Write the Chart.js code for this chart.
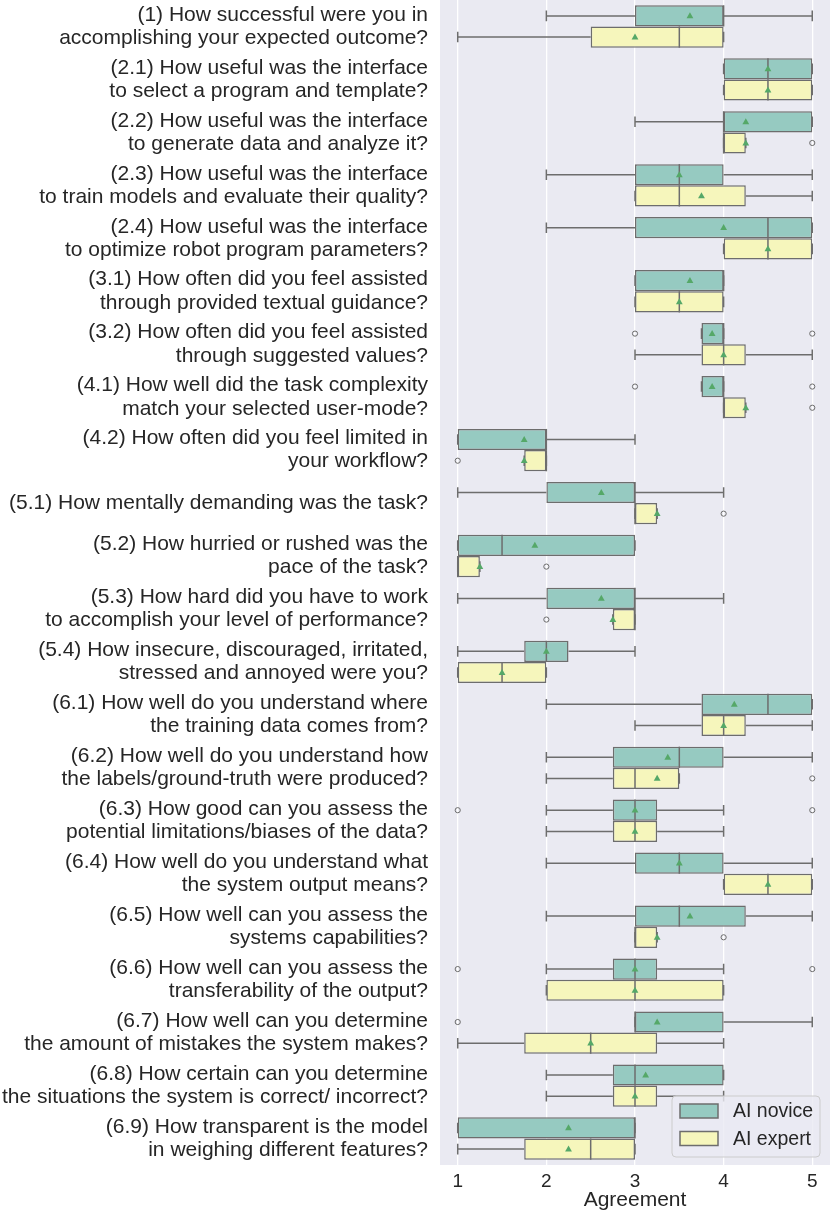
<!DOCTYPE html>
<html>
<head>
<meta charset="utf-8">
<script src="https://cdn.jsdelivr.net/npm/chart.js@4.4.1/dist/chart.umd.min.js"></script>
<style>
  html, body { margin: 0; padding: 0; background: #fff; }
  #wrap { width: 831px; height: 1213px; }
</style>
</head>
<body>
<div id="wrap"><canvas id="boxChart"></canvas></div>
<script>
// questions on the y axis (two lines each)
const questions = [
  ["(1) How successful were you in", "accomplishing your expected outcome?"],
  ["(2.1) How useful was the interface", "to select a program and template?"],
  ["(2.2) How useful was the interface", "to generate data and analyze it?"],
  ["(2.3) How useful was the interface", "to train models and evaluate their quality?"],
  ["(2.4) How useful was the interface", "to optimize robot program parameters?"],
  ["(3.1) How often did you feel assisted", "through provided textual guidance?"],
  ["(3.2) How often did you feel assisted", "through suggested values?"],
  ["(4.1) How well did the task complexity", "match your selected user-mode?"],
  ["(4.2) How often did you feel limited in", "your workflow?"],
  ["(5.1) How mentally demanding was the task?"],
  ["(5.2) How hurried or rushed was the", "pace of the task?"],
  ["(5.3) How hard did you have to work", "to accomplish your level of performance?"],
  ["(5.4) How insecure, discouraged, irritated,", "stressed and annoyed were you?"],
  ["(6.1) How well do you understand where", "the training data comes from?"],
  ["(6.2) How well do you understand how", "the labels/ground-truth were produced?"],
  ["(6.3) How good can you assess the", "potential limitations/biases of the data?"],
  ["(6.4) How well do you understand what", "the system output means?"],
  ["(6.5) How well can you assess the", "systems capabilities?"],
  ["(6.6) How well can you assess the", "transferability of the output?"],
  ["(6.7) How well can you determine", "the amount of mistakes the system makes?"],
  ["(6.8) How certain can you determine", "the situations the system is correct/ incorrect?"],
  ["(6.9) How transparent is the model", "in weighing different features?"]
];
const xTicks = [1, 2, 3, 4, 5];
const groupLabels = ["AI novice", "AI expert"];

// AI novice
const noviceLow    = [2, 4, 3, 2, 2, 3, 3.75, 3.75, 1, 1, 1, 1, 1, 2, 2, 2, 2, 2, 2, 3, 2, 1];
const noviceQ1     = [3, 4, 4, 3, 3, 3, 3.75, 3.75, 1, 2, 1, 2, 1.75, 3.75, 2.75, 2.75, 3, 3, 2.75, 3, 2.75, 1];
const noviceMedian = [4, 4.5, 4, 3.5, 4.5, 4, 4, 4, 2, 3, 1.5, 3, 2, 4.5, 3.5, 3, 3.5, 3.5, 3, 3, 3, 3];
const noviceQ3     = [4, 5, 5, 4, 5, 4, 4, 4, 2, 3, 3, 3, 2.25, 5, 4, 3.25, 4, 4.25, 3.25, 4, 4, 3];
const noviceHigh   = [5, 5, 5, 5, 5, 4, 4, 4, 3, 4, 3, 4, 3, 5, 5, 4, 5, 5, 4, 5, 4, 3];
const noviceMean   = [3.62, 4.5, 4.25, 3.5, 4.0, 3.62, 3.87, 3.87, 1.75, 2.62, 1.87, 2.62, 2.0, 4.12, 3.37, 3.0, 3.5, 3.62, 3.0, 3.25, 3.12, 2.25];
const noviceOut    = [[], [], [], [], [], [], [3, 5], [3, 5], [], [], [], [], [], [], [], [1, 5], [], [], [1, 5], [1], [], []];

// AI expert
const expertLow    = [1, 4, 4, 3, 4, 3, 3, 4, 1.75, 3, 1, 2.75, 1, 3, 2, 2, 4, 3, 2, 1, 2, 1];
const expertQ1     = [2.5, 4, 4, 3, 4, 3, 3.75, 4, 1.75, 3, 1, 2.75, 1, 3.75, 2.75, 2.75, 4, 3, 2, 1.75, 2.75, 1.75];
const expertMedian = [3.5, 4.5, 4, 3.5, 4.5, 3.5, 4, 4, 2, 3, 1, 3, 1.5, 4, 3, 3, 4.5, 3, 3, 2.5, 3, 2.5];
const expertQ3     = [4, 5, 4.25, 4.25, 5, 4, 4.25, 4.25, 2, 3.25, 1.25, 3, 2, 4.25, 3.5, 3.25, 5, 3.25, 4, 3.25, 3.25, 3];
const expertHigh   = [4, 5, 4.25, 5, 5, 4, 5, 4.25, 2, 3.25, 1.25, 3, 2, 5, 3.5, 4, 5, 3.25, 4, 4, 4, 3];
const expertMean   = [3.0, 4.5, 4.25, 3.75, 4.5, 3.5, 4.0, 4.25, 1.75, 3.25, 1.25, 2.75, 1.5, 4.0, 3.25, 3.0, 4.5, 3.25, 3.0, 2.5, 3.0, 2.25];
const expertOut    = [[], [], [5], [], [], [], [], [5], [1], [4], [2], [2], [], [], [5], [], [], [4], [], [], [], []];

const FONT = "'Liberation Sans', Arial, sans-serif";
const TEXT = '#262626';
const EDGE = '#6d6d6d';
const MEAN = '#55a868';
const colors = ['#96cac1', '#f6f6bc'];

const stats = [
  { low: noviceLow, med: noviceMedian, high: noviceHigh, q1: noviceQ1, q3: noviceQ3, mean: noviceMean, out: noviceOut },
  { low: expertLow, med: expertMedian, high: expertHigh, q1: expertQ1, q3: expertQ3, mean: expertMean, out: expertOut }
];

function eachBox(chart, fn) {
  stats.forEach((s, di) => {
    const meta = chart.getDatasetMeta(di);
    meta.data.forEach((el, i) => {
      const p = el.getProps(['y', 'height'], true);
      fn(s, i, p.y, p.height, di);
    });
  });
}

const boxExtras = {
  id: 'boxExtras',
  beforeDraw(chart) {
    const { ctx, chartArea: a } = chart;
    ctx.save();
    ctx.fillStyle = '#eaeaf2';
    ctx.fillRect(a.left, a.top, a.right - a.left, a.bottom - a.top);
    ctx.restore();
  },
  beforeDatasetsDraw(chart) {
    // whiskers and caps
    const { ctx } = chart;
    const xs = chart.scales.x;
    ctx.save();
    ctx.strokeStyle = EDGE;
    ctx.lineWidth = 1.5;
    eachBox(chart, (s, i, y, h) => {
      const lo = xs.getPixelForValue(s.low[i]);
      const hi = xs.getPixelForValue(s.high[i]);
      const q1 = xs.getPixelForValue(s.q1[i]);
      const q3 = xs.getPixelForValue(s.q3[i]);
      ctx.beginPath();
      ctx.moveTo(lo, y); ctx.lineTo(q1, y);
      ctx.moveTo(q3, y); ctx.lineTo(hi, y);
      ctx.moveTo(lo, y - h / 4); ctx.lineTo(lo, y + h / 4);
      ctx.moveTo(hi, y - h / 4); ctx.lineTo(hi, y + h / 4);
      ctx.stroke();
    });
    ctx.restore();
  },
  afterDatasetsDraw(chart) {
    const { ctx, chartArea: a } = chart;
    const xs = chart.scales.x;
    ctx.save();
    eachBox(chart, (s, i, y, h) => {
      // median
      const m = xs.getPixelForValue(s.med[i]);
      ctx.strokeStyle = EDGE;
      ctx.lineWidth = 1.5;
      ctx.beginPath();
      ctx.moveTo(m, y - h / 2); ctx.lineTo(m, y + h / 2);
      ctx.stroke();
      // outliers
      ctx.lineWidth = 1;
      s.out[i].forEach(v => {
        ctx.beginPath();
        ctx.arc(xs.getPixelForValue(v), y, 2.6, 0, Math.PI * 2);
        ctx.stroke();
      });
      // mean
      const mx = xs.getPixelForValue(s.mean[i]);
      ctx.fillStyle = MEAN;
      ctx.beginPath();
      ctx.moveTo(mx, y - 3.6);
      ctx.lineTo(mx + 3.4, y + 2.4);
      ctx.lineTo(mx - 3.4, y + 2.4);
      ctx.closePath();
      ctx.fill();
    });

    // legend, lower right inside the plot
    const w = 148, h = 61;
    const lx = a.right - 10 - w, ly = a.bottom - 8 - h;
    ctx.fillStyle = 'rgba(234,234,242,0.8)';
    ctx.strokeStyle = '#cccccc';
    ctx.lineWidth = 1;
    ctx.beginPath();
    ctx.roundRect(lx, ly, w, h, 4);
    ctx.fill();
    ctx.stroke();
    ctx.font = '19.5px ' + FONT;
    ctx.textBaseline = 'middle';
    groupLabels.forEach((lab, k) => {
      const cy = ly + 15 + k * 27.5;
      ctx.fillStyle = colors[k];
      ctx.strokeStyle = EDGE;
      ctx.lineWidth = 1.5;
      ctx.fillRect(lx + 8, cy - 7, 38, 14);
      ctx.strokeRect(lx + 8, cy - 7, 38, 14);
      ctx.fillStyle = TEXT;
      ctx.fillText(lab, lx + 61, cy + 1);
    });
    ctx.restore();
  }
};

const datasets = stats.map((s, di) => ({
  label: groupLabels[di],
  data: s.q1.map((v, i) => [v, s.q3[i]]),
  backgroundColor: colors[di],
  borderColor: EDGE,
  borderWidth: 1.5,
  borderSkipped: false,
  categoryPercentage: 0.8,
  barPercentage: 1.0
}));

new Chart(document.getElementById('boxChart'), {
  type: 'bar',
  data: { labels: questions, datasets: datasets },
  options: {
    indexAxis: 'y',
    responsive: true,
    maintainAspectRatio: false,
    animation: false,
    layout: { padding: { top: 0, right: 1, bottom: 0, left: 0 } },
    plugins: {
      legend: { display: false },
      tooltip: { enabled: false }
    },
    scales: {
      x: {
        type: 'linear',
        min: 0.8,
        max: 5.2,
        afterBuildTicks: s => { s.ticks = xTicks.map(v => ({ value: v })); },
        afterFit: s => { s.height = 48; s.paddingLeft = 0; s.paddingRight = 0; },
        grid: { color: '#ffffff', lineWidth: 1.3, drawTicks: false },
        border: { display: false },
        ticks: { color: TEXT, padding: 5, font: { family: FONT, size: 19 } },
        title: {
          display: true,
          text: 'Agreement',
          color: TEXT,
          padding: { top: 0, bottom: 0 },
          font: { family: FONT, size: 21 }
        }
      },
      y: {
        type: 'category',
        afterFit: s => { s.width = 440; s.paddingTop = 0; s.paddingBottom = 0; },
        grid: { display: false, drawTicks: false },
        border: { display: false },
        ticks: {
          autoSkip: false,
          color: TEXT,
          padding: 12,
          font: { family: FONT, size: 21, lineHeight: 1.1 }
        }
      }
    }
  },
  plugins: [boxExtras]
});
</script>
</body>
</html>
